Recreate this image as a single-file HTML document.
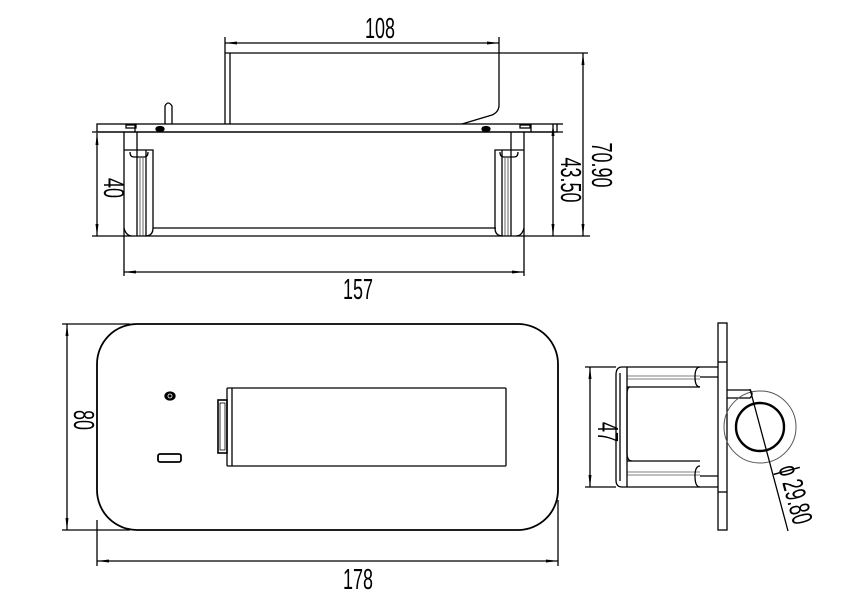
<!DOCTYPE html>
<html><head><meta charset="utf-8"><style>
html,body{margin:0;padding:0;background:#fff;width:843px;height:615px;overflow:hidden}
svg{display:block}
text{font-family:"Liberation Sans",sans-serif;font-size:29px;fill:#000}
</style></head><body>
<svg width="843" height="615" viewBox="0 0 843 615" xmlns="http://www.w3.org/2000/svg">
<defs>
<marker id="a" markerWidth="12" markerHeight="6" refX="12" refY="3" orient="auto-start-reverse" markerUnits="userSpaceOnUse"><path d="M0,1.5 L12,3 L0,4.5 Z" fill="#000"/></marker>
</defs>
<g stroke="#000" fill="none" stroke-width="1.3">
<line x1="225" y1="37" x2="225" y2="124"/>
<line x1="230" y1="53" x2="230" y2="124"/>
<line x1="225" y1="53" x2="499" y2="53"/>
<path d="M499,37 L499,105 Q499,112 492,115 L462,124"/>
<line x1="499" y1="53" x2="588" y2="53"/>
<line x1="225" y1="43" x2="499" y2="43" marker-start="url(#a)" marker-end="url(#a)"/>
<path d="M165,124 L165,106 Q168,100 172,106 L172,124"/>
<rect x="97" y="124" width="460" height="8"/>
<line x1="92" y1="132" x2="563" y2="132"/>
<line x1="135" y1="124" x2="135" y2="132"/>
<line x1="531" y1="124" x2="531" y2="132"/>
<rect x="126" y="125" width="10" height="3"/>
<rect x="520" y="125" width="10" height="3"/>
<ellipse cx="160" cy="129" rx="4" ry="2.5" fill="#000"/>
<ellipse cx="486" cy="129" rx="4" ry="2.5" fill="#000"/>
<line x1="124" y1="132" x2="124" y2="236"/>
<line x1="524" y1="132" x2="524" y2="236"/>
<line x1="137" y1="132" x2="137" y2="150"/>
<line x1="511" y1="132" x2="511" y2="150"/>
<line x1="92" y1="236" x2="590" y2="236"/>
<line x1="153" y1="228" x2="496" y2="228"/>
<path d="M124,150 L153,150 L153,228 Q153,236 145,236"/>
<line x1="137" y1="150" x2="137" y2="236"/>
<line x1="140" y1="158" x2="140" y2="236" stroke-width="0.6"/>
<line x1="143" y1="158" x2="143" y2="236" stroke-width="0.6"/>
<line x1="146" y1="150" x2="146" y2="236"/>
<path d="M130,152 Q130,157 134,157 L144,157 Q148,157 148,152"/>
<path d="M124,228 Q126,236 132,236"/>
<path d="M524,150 L495,150 L495,228 Q495,236 503,236"/>
<line x1="511" y1="150" x2="511" y2="236"/>
<line x1="508" y1="158" x2="508" y2="236" stroke-width="0.6"/>
<line x1="505" y1="158" x2="505" y2="236" stroke-width="0.6"/>
<line x1="502" y1="150" x2="502" y2="236"/>
<path d="M500,152 Q500,157 504,157 L514,157 Q518,157 518,152"/>
<path d="M524,228 Q522,236 516,236"/>
<line x1="97" y1="133" x2="97" y2="236" marker-start="url(#a)" marker-end="url(#a)"/>
<line x1="553" y1="124" x2="553" y2="236" marker-start="url(#a)" marker-end="url(#a)"/>
<line x1="557" y1="124" x2="563" y2="124"/>
<line x1="583" y1="53" x2="583" y2="236" marker-start="url(#a)" marker-end="url(#a)"/>
<line x1="124" y1="236" x2="124" y2="276"/>
<line x1="524" y1="236" x2="524" y2="276"/>
<line x1="124" y1="272" x2="524" y2="272" marker-start="url(#a)" marker-end="url(#a)"/>

<rect x="97" y="324" width="461" height="206" rx="40" ry="40" stroke-width="1.8"/>
<line x1="62" y1="324" x2="130" y2="324"/>
<line x1="62" y1="530" x2="130" y2="530"/>
<line x1="67" y1="324" x2="67" y2="530" marker-start="url(#a)" marker-end="url(#a)"/>
<line x1="97" y1="520" x2="97" y2="566"/>
<line x1="558" y1="500" x2="558" y2="566"/>
<line x1="97" y1="561" x2="558" y2="561" marker-start="url(#a)" marker-end="url(#a)"/>
<rect x="227" y="388" width="279" height="78" rx="1"/>
<line x1="232" y1="388" x2="232" y2="466"/>
<rect x="218" y="400" width="9" height="53" stroke-width="1.6"/>
<rect x="220" y="403" width="5" height="47" stroke-width="0.8"/>
<ellipse cx="170" cy="396" rx="5" ry="4" fill="#000"/>
<circle cx="170" cy="396" r="2" stroke="#fff" stroke-width="0.8"/>
<rect x="158" y="454" width="23" height="8" rx="2" stroke-width="1.8"/>

<rect x="718" y="323" width="9" height="207"/>
<line x1="718" y1="362" x2="727" y2="362"/>
<line x1="718" y1="492" x2="727" y2="492"/>
<path d="M718,367 L622,367 Q616,367 616,375 L616,480 Q616,487 622,487 L718,487"/>
<line x1="620" y1="373" x2="620" y2="481"/>
<line x1="627" y1="367" x2="627" y2="487"/>
<line x1="627" y1="387" x2="700" y2="387"/>
<line x1="627" y1="376" x2="700" y2="376" stroke-width="0.6"/>
<line x1="627" y1="379" x2="700" y2="379" stroke-width="0.6"/>
<path d="M700,367 Q695,367 695,377 Q695,387 700,387"/>
<line x1="700" y1="377" x2="718" y2="377"/>
<line x1="627" y1="461" x2="700" y2="461"/>
<line x1="627" y1="472" x2="700" y2="472" stroke-width="0.6"/>
<line x1="627" y1="475" x2="700" y2="475" stroke-width="0.6"/>
<path d="M700,466 Q695,466 695,476 Q695,487 700,487"/>
<line x1="700" y1="476" x2="718" y2="476"/>
<path d="M630,387 Q627,387 627,395 L627,453 Q627,461 632,461" />
<path d="M727,390 L750,390 Q754,394 750,398 L727,398"/>
<circle cx="760" cy="427" r="36" stroke="#555" stroke-width="1"/>
<circle cx="760" cy="427" r="24" stroke-width="2.4"/>
<line x1="750" y1="389" x2="788" y2="531"/>
<line x1="585" y1="367" x2="616" y2="367"/>
<line x1="585" y1="487" x2="616" y2="487"/>
<line x1="590" y1="367" x2="590" y2="487" marker-start="url(#a)" marker-end="url(#a)"/>
</g>
<g>
<text transform="translate(380,38) scale(0.62,1)" text-anchor="middle">108</text>
<text transform="translate(358,299) scale(0.62,1)" text-anchor="middle">157</text>
<text transform="translate(358,589) scale(0.62,1)" text-anchor="middle">178</text>
<text transform="translate(104,188) rotate(90) scale(0.62,1)" text-anchor="middle">40</text>
<text transform="translate(561,180) rotate(90) scale(0.62,1)" text-anchor="middle">43.50</text>
<text transform="translate(592,165) rotate(90) scale(0.62,1)" text-anchor="middle">70.90</text>
<text transform="translate(74,420) rotate(90) scale(0.62,1)" text-anchor="middle">80</text>
<text transform="translate(598,432) rotate(90) scale(0.62,1)" text-anchor="middle">47</text>
<text transform="translate(786,497) rotate(75) scale(0.62,1)" text-anchor="middle">ϕ 29.80</text>
</g>
</svg>
</body></html>
